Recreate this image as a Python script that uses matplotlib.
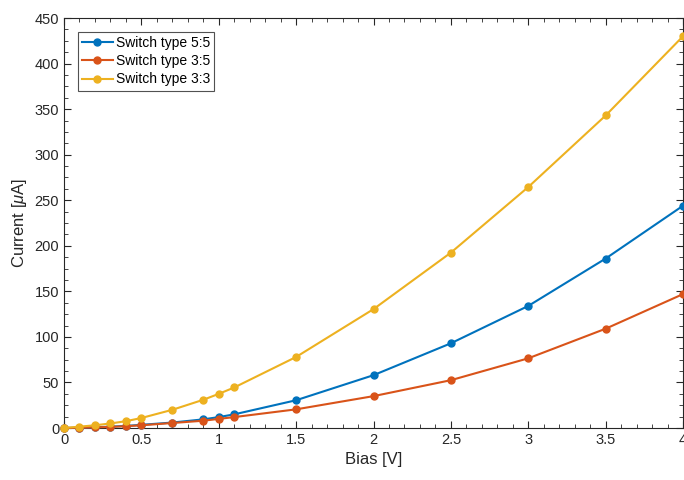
import matplotlib
matplotlib.use("Agg")
import matplotlib.pyplot as plt
from matplotlib.ticker import MultipleLocator

plt.rcParams['font.family'] = ['Liberation Sans', 'DejaVu Sans']
plt.rcParams['mathtext.fontset'] = 'custom'
plt.rcParams['mathtext.it'] = 'Liberation Sans:italic'
plt.rcParams['mathtext.rm'] = 'Liberation Sans'

bias = [0, 0.1, 0.2, 0.3, 0.4, 0.5, 0.7, 0.9, 1.0, 1.1, 1.5, 2.0, 2.5, 3.0, 3.5, 4.0]
sw55 = [0, 0.3, 0.8, 1.5, 2.3, 3.5, 6, 9.5, 12, 15, 30.5, 58, 93, 134, 186, 244]
sw35 = [0, 0.3, 0.7, 1.2, 2.0, 3.0, 5.5, 8, 10, 12, 20.5, 35, 52.5, 76.5, 109, 147]
sw33 = [0, 1.5, 3, 5, 7.5, 11, 20, 31, 37.5, 44.5, 78, 130.5, 192.5, 264.5, 343, 430]
labels = ['Switch type 5:5', 'Switch type 3:5', 'Switch type 3:3']
colors = ['#0072BD', '#D95319', '#EDB120']

fig = plt.figure(figsize=(6.84, 4.8), dpi=100)
ax = fig.add_axes([0.0936, 0.1083, 0.905, 0.8542])

for y, lab, c in zip([sw55, sw35, sw33], labels, colors):
    ax.plot(bias, y, '-o', color=c, lw=1.5, ms=5, label=lab, clip_on=False, zorder=3)

ax.set_xlim(0, 4)
ax.set_ylim(0, 450)
ax.xaxis.set_major_locator(MultipleLocator(0.5))
ax.xaxis.set_minor_locator(MultipleLocator(0.1))
ax.yaxis.set_major_locator(MultipleLocator(50))
ax.yaxis.set_minor_locator(MultipleLocator(12.5))
ax.set_xticks([0, 0.5, 1, 1.5, 2, 2.5, 3, 3.5, 4])
ax.set_xticklabels(['0', '0.5', '1', '1.5', '2', '2.5', '3', '3.5', '4'])

axc = '#262626'
for s in ax.spines.values():
    s.set_color(axc)
    s.set_linewidth(0.8)
ax.tick_params(which='both', direction='in', top=True, right=True, colors=axc, labelsize=10.5)
ax.tick_params(which='major', length=5)
ax.tick_params(which='minor', length=3)

ax.set_xlabel('Bias [V]', fontsize=12, color=axc)
ax.set_ylabel(r'Current [$\mu$A]', fontsize=12, color=axc)

leg = ax.legend(loc='upper left', bbox_to_anchor=(0.0226, 0.966), borderaxespad=0,
                fontsize=10, frameon=True, fancybox=False, edgecolor=axc, borderpad=0.3,
                labelspacing=0.3, handlelength=2.2, handletextpad=0.2)
leg.get_frame().set_linewidth(0.8)

fig.savefig('out.png', dpi=100)
